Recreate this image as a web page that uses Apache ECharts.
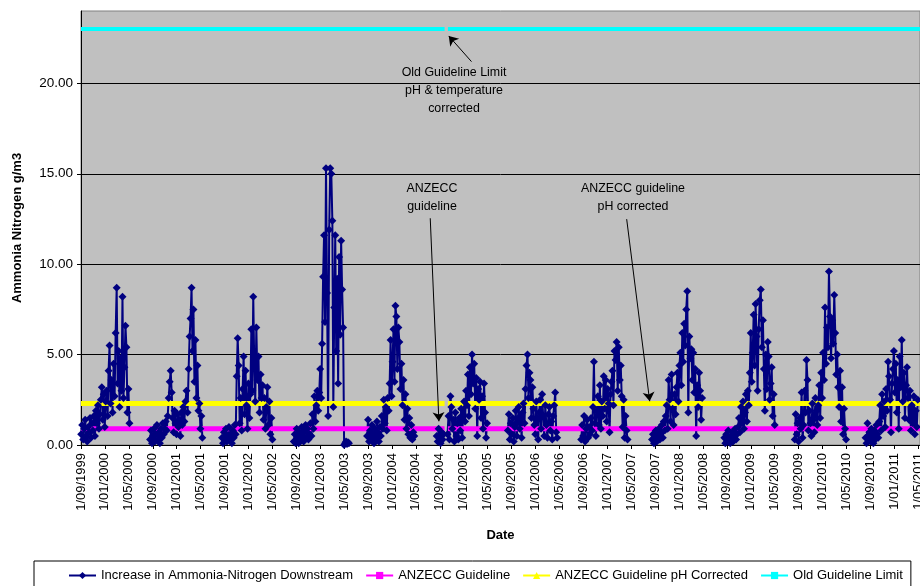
<!DOCTYPE html>
<html>
<head>
<meta charset="utf-8">
<title>Ammonia Nitrogen downstream</title>
<script src="https://cdn.jsdelivr.net/npm/echarts@6.0.0/dist/echarts.min.js"></script>
<style>
  html, body { margin: 0; padding: 0; background: #fff; }
  #chart { width: 920px; height: 586px; }
</style>
</head>
<body>
<div id="chart"></div>
<script>
// one sample every 5 days during each monitoring season
const stepDays = 5;
const seasonStarts = [
    '1999-09-02', '2000-08-18', '2001-08-19', '2002-08-19', '2003-08-27', '2004-08-16',
    '2004-10-10', '2005-08-13', '2006-08-21', '2007-08-16', '2008-08-19', '2009-08-12', '2010-08-07'
];

const nh3_1999 = [0.6, 1.1, 0.3, 0.9, 1.4, 0.5, 0.2, 1.0, 0.7, 1.5, 0.4, 1.2, 0.8, 1.6, 0.5, 1.9, 1.2, 2.2, 0.9, 1.7,
    2.5, 3.2, 1.4, 2.8, 1.0, 2.4, 3.0, 1.6, 4.1, 5.5, 2.3, 3.6, 1.8, 4.5, 2.7, 6.2, 8.7, 3.4, 5.2, 2.1,
    4.8, 3.0, 8.2, 2.6, 4.3, 6.6, 5.4, 1.8, 3.1, 1.2];
const nh3_2000 = [0.3, 0.8, 0.1, 0.5, 0.9, 0.2, 0.6, 1.1, 0.3, 0.7, 0.1, 0.9, 0.4, 1.2, 0.6, 0.9,
    1.3, 0.8, 1.6, 2.6, 3.5, 4.1, 2.9,
    1.5, 0.7, 1.9, 1.2, 0.6, 1.7, 1.0, 1.4, 0.5, 1.8, 1.1, 2.1, 1.3,
    2.4, 3.0, 1.8, 4.2, 6.0, 7.0, 8.7, 5.2, 7.5, 3.5, 5.8, 2.6, 4.4,
    1.9, 2.3, 0.9, 1.6, 0.4];
const nh3_2001 = [0.4, 0.1, 0.7, 0.3, 0.9, 0.2, 0.5, 1.0, 0.3, 0.6, 0.1, 0.8, 0.4, 1.1, 0.6,
    3.8, 5.9, 4.4,
    1.2, 2.6, 0.8, 3.1, 4.9, 1.7, 4.1, 2.2, 0.9, 3.4, 1.5, 2.8,
    6.4, 3.0, 8.2, 4.6, 2.4, 6.5, 3.6, 4.9, 1.8, 3.9, 2.6,
    3.3, 1.4, 2.6, 0.9, 2.1, 3.2, 1.1, 2.4, 0.6, 1.5, 0.3];
const nh3_2002 = [0.2, 0.6, 0.1, 0.9, 0.4, 0.1, 0.7, 0.3, 1.0, 0.5, 0.2, 0.8, 1.1, 0.4, 0.9, 0.3, 0.6, 1.2, 0.5,
    1.7, 0.9, 2.7, 1.3, 2.2, 3.0, 1.9, 2.9,
    4.2, 2.6, 5.6, 9.3, 11.6, 6.8, 15.3, 8.4, 1.6, 11.9, 15.3, 15.0,
    12.4, 2.1, 7.6, 11.6, 5.2, 9.2, 3.4, 10.4, 6.1, 11.3, 8.6, 6.5,
    0.0, 0.1, 0.2, 0.05, 0.15, 0.1];
const nh3_2003 = [0.5, 1.4, 0.2, 0.8, 0.3, 1.1, 0.6, 0.1, 0.9, 0.4, 1.3, 0.7, 0.2, 1.0, 0.5,
    1.6, 0.9, 2.5, 1.2, 2.1, 0.8, 2.6, 1.9, 3.4,
    5.8, 2.7, 4.6, 6.4, 3.5, 7.7, 7.1, 4.2, 6.5, 5.7,
    3.1, 4.5, 2.2, 3.6, 1.4, 2.8, 0.9, 2.0, 0.6, 1.5, 0.4, 1.1, 0.3, 0.7, 0.5];
const nh3_2004a = [0.5, 0.2, 0.9, 0.4, 0.1, 0.7, 0.3, 0.6];
const nh3_2004b = [0.6, 1.6, 0.3, 2.7, 2.1, 0.9, 1.4, 0.2, 1.8,
    0.5, 1.2, 0.3, 1.5, 0.8, 2.0, 0.4, 1.7, 2.4,
    1.3, 3.0, 2.2, 3.9, 1.6, 4.3, 2.8, 5.0, 3.4, 4.5, 2.0, 3.7, 0.5, 3.1, 2.5, 3.5, 1.5,
    2.7, 0.9, 3.4, 1.8, 0.4, 1.2];
const nh3_2005 = [0.8, 1.7, 0.3, 1.2, 0.6, 1.5, 0.2, 1.0, 1.9, 0.5, 1.3, 2.1, 0.9, 1.6, 0.4, 1.8,
    2.3, 1.2, 3.1, 4.4, 5.0, 2.6, 4.0, 3.6, 1.5, 3.2, 2.0, 1.1,
    0.6, 2.4, 1.4, 0.3, 1.8, 2.5, 0.9, 2.8, 1.6, 0.5, 2.2, 1.1,
    0.4, 1.7, 2.1, 0.8, 1.3, 0.3, 1.6, 2.2, 2.9, 0.7, 0.4];
const nh3_2006 = [0.3, 1.1, 0.5, 1.6, 0.2, 0.9, 1.4, 0.4, 1.0, 0.6,
    1.5, 0.8, 2.1, 4.6, 1.2, 0.5, 1.9,
    2.7, 1.1, 3.3, 0.9, 2.4, 1.6, 3.8, 2.0, 3.6, 1.3, 3.1, 2.3, 0.7, 2.8,
    3.5, 4.1, 2.2, 5.2, 4.7, 5.7, 3.0, 5.4, 3.6, 4.4,
    2.7, 1.0, 2.5, 0.4, 1.6, 0.8, 0.3];
const nh3_2007 = [0.3, 0.6, 0.1, 0.4, 0.8, 0.2, 0.5, 0.9, 0.3, 0.7, 1.1, 0.4, 1.3, 0.8,
    1.6, 2.2, 0.9, 3.6, 2.5, 1.3, 3.9, 2.0, 1.1, 2.8, 1.7, 3.2,
    4.0, 2.4, 4.4, 5.1, 3.3, 6.2, 4.6, 6.7, 5.5, 7.5, 8.5, 1.8, 6.0, 4.8, 5.3, 3.6, 5.1,
    2.9, 4.2, 0.5, 3.3, 2.1, 4.0, 3.0, 1.4, 2.6];
const nh3_2008 = [0.4, 0.1, 0.6, 0.2, 0.8, 0.3, 0.1, 0.5, 0.7, 0.2, 0.4, 0.9, 0.3, 0.6, 1.0,
    1.5, 0.7, 2.1, 1.2, 2.4, 0.9, 1.8, 2.8, 1.3, 3.0, 2.2, 4.0,
    6.2, 3.5, 5.1, 7.2, 4.4, 7.8, 6.0, 3.0, 6.4, 8.0, 8.6, 5.4, 6.9, 4.2, 1.9, 5.0, 3.1, 5.7,
    4.9, 2.5, 3.4, 4.3, 1.6, 2.8, 1.1];
const nh3_2009 = [0.3, 1.7, 0.6, 1.2, 0.2, 1.5, 0.9, 2.9, 0.4, 1.1, 3.0, 1.8,
    4.7, 3.6, 0.8, 1.9, 1.2, 0.5, 2.3, 1.4, 0.7, 2.6, 1.9, 1.1, 2.2,
    3.3, 1.5, 4.0, 2.6, 5.1, 3.6, 7.6, 4.5, 6.5, 5.4, 9.6, 7.1, 4.8, 6.9, 5.6, 8.3, 6.2, 3.9, 5.0,
    3.2, 2.1, 4.1, 1.3, 3.2, 0.6, 2.0, 0.9, 0.3];
const nh3_2010 = [0.4, 0.1, 1.2, 0.3, 0.7, 0.2, 0.9, 0.5, 0.1, 0.8, 0.3, 1.1, 0.6, 0.4,
    1.3, 2.2, 0.8, 2.8, 1.6, 2.4, 1.0, 3.1, 1.9,
    4.6, 3.8, 2.5, 0.7, 3.4, 4.2, 5.2, 2.9, 4.5, 1.8, 3.6, 0.9, 4.9, 3.2, 5.8, 2.4, 4.0, 1.5, 3.3, 4.3, 2.6,
    1.4, 3.0, 0.8, 2.2, 1.2, 2.7, 0.6, 1.9, 1.0, 2.5];

const seasonValues = [nh3_1999, nh3_2000, nh3_2001, nh3_2002, nh3_2003, nh3_2004a,
    nh3_2004b, nh3_2005, nh3_2006, nh3_2007, nh3_2008, nh3_2009, nh3_2010];

// guideline series (constant levels) and the dates they cover
const guideSpans = [['1999-09-01', '2004-09-25'], ['2004-10-12', '2011-05-10']];
const anzeccGuideline = 0.9;
const anzeccPhCorrected = 2.3;
const oldGuidelineLimit = 23.0;

const dateTicks = ['1/09/1999', '1/01/2000', '1/05/2000', '1/09/2000', '1/01/2001', '1/05/2001',
    '1/09/2001', '1/01/2002', '1/05/2002', '1/09/2002', '1/01/2003', '1/05/2003',
    '1/09/2003', '1/01/2004', '1/05/2004', '1/09/2004', '1/01/2005', '1/05/2005',
    '1/09/2005', '1/01/2006', '1/05/2006', '1/09/2006', '1/01/2007', '1/05/2007',
    '1/09/2007', '1/01/2008', '1/05/2008', '1/09/2008', '1/01/2009', '1/05/2009',
    '1/09/2009', '1/01/2010', '1/05/2010', '1/09/2010', '1/01/2011', '1/05/2011'];
const yTicks = [0, 5, 10, 15, 20];

const seriesNames = ['Increase in Ammonia-Nitrogen Downstream', 'ANZECC Guideline',
    'ANZECC Guideline pH Corrected', 'Old Guideline Limit'];

// x axis runs in months counted from 1 Sep 1999, ticks every 4 months
function parseDay(s) {
    var p = s.split('-').map(Number);
    return new Date(Date.UTC(p[0], p[1] - 1, p[2]));
}
function toMonths(t) {
    var y = t.getUTCFullYear(), m = t.getUTCMonth(), d = t.getUTCDate();
    var dim = new Date(Date.UTC(y, m + 1, 0)).getUTCDate();
    return (y - 1999) * 12 + (m - 8) + (d - 1) / dim;
}

var mainData = [];
seasonValues.forEach(function (vals, k) {
    var t0 = parseDay(seasonStarts[k]).getTime();
    var lastX = 0;
    vals.forEach(function (v, i) {
        lastX = toMonths(new Date(t0 + i * stepDays * 86400000));
        mainData.push([lastX, v]);
    });
    mainData.push([lastX + 0.05, '-']);
});

function guideData(level) {
    var out = [];
    guideSpans.forEach(function (span, k) {
        var a = toMonths(parseDay(span[0])), b = toMonths(parseDay(span[1]));
        if (k > 0) out.push([a - 0.05, '-']);
        out.push([a, level]);
        out.push([b, level]);
    });
    return out;
}

var dom = document.getElementById('chart');
var myChart = echarts.init(dom, null, { renderer: 'canvas' });

var font = '"Liberation Sans", Arial, sans-serif';

const option = {
    animation: false,
    textStyle: { fontFamily: font, color: '#000' },
    grid: {
        left: 81, right: 0, top: 11, bottom: 141,
        show: true,
        backgroundColor: '#C0C0C0',
        borderColor: '#808080',
        borderWidth: 1,
        containLabel: false,
        outerBoundsMode: 'none'
    },
    xAxis: {
        type: 'value',
        min: 0,
        max: 140.3,
        interval: 4,
        name: 'Date',
        nameLocation: 'middle',
        nameGap: 84,
        nameMoveOverlap: false,
        nameTextStyle: { fontFamily: font, fontWeight: 'bold', fontSize: 13, color: '#000' },
        axisLine: { show: true, onZero: false, lineStyle: { color: '#000', width: 1 } },
        axisTick: { show: true, length: 4, lineStyle: { color: '#000' },
            customValues: dateTicks.map(function (s, i) { return i * 4; }) },
        axisLabel: {
            rotate: 90,
            margin: 8,
            fontSize: 13,
            color: '#000',
            fontFamily: font,
            customValues: dateTicks.map(function (s, i) { return i * 4; }),
            formatter: function (v) {
                var k = Math.round(v / 4);
                return (Math.abs(v - k * 4) < 1e-6 && dateTicks[k]) ? dateTicks[k] : '';
            }
        },
        splitLine: { show: false }
    },
    yAxis: {
        type: 'value',
        min: 0,
        max: 24,
        interval: 5,
        name: 'Ammonia Nitrogen g/m3',
        nameLocation: 'middle',
        nameGap: 57,
        nameMoveOverlap: false,
        nameTextStyle: { fontFamily: font, fontWeight: 'bold', fontSize: 13, color: '#000' },
        axisLine: { show: true, lineStyle: { color: '#000', width: 1 } },
        axisTick: { show: true, length: 4, lineStyle: { color: '#000' }, customValues: yTicks },
        axisLabel: {
            margin: 8,
            fontSize: 13.5,
            color: '#000',
            fontFamily: font,
            customValues: yTicks,
            formatter: function (v) { return v % 5 === 0 ? v.toFixed(2) : ''; }
        },
        splitLine: { show: true, lineStyle: { color: '#000', width: 1 } }
    },
    legend: {
        data: seriesNames,
        left: 34,
        top: 561,
        orient: 'horizontal',
        padding: [8, 8, 20, 34],
        itemWidth: 27,
        itemHeight: 9,
        itemGap: 12,
        borderColor: '#000',
        borderWidth: 1,
        backgroundColor: '#fff',
        selectedMode: false,
        lineStyle: { width: 2 },
        textStyle: { fontFamily: font, fontSize: 13, color: '#000' }
    },
    graphic: [
        {
            type: 'text', x: 454, y: 64, silent: true,
            style: { text: 'Old Guideline Limit\npH & temperature\ncorrected', textAlign: 'center',
                textVerticalAlign: 'top', font: '12.4px ' + font, fill: '#000', lineHeight: 18 }
        },
        {
            type: 'text', x: 432, y: 180, silent: true,
            style: { text: 'ANZECC\nguideline', textAlign: 'center',
                textVerticalAlign: 'top', font: '12.4px ' + font, fill: '#000', lineHeight: 18 }
        },
        {
            type: 'text', x: 633, y: 180, silent: true,
            style: { text: 'ANZECC guideline\npH corrected', textAlign: 'center',
                textVerticalAlign: 'top', font: '12.4px ' + font, fill: '#000', lineHeight: 18 }
        }
    ],
    series: [
        {
            name: seriesNames[0],
            type: 'line',
            data: mainData,
            symbol: 'diamond',
            symbolSize: 8,
            showSymbol: true,
            connectNulls: false,
            silent: true,
            itemStyle: { color: '#000080' },
            lineStyle: { color: '#000080', width: 2 }
        },
        {
            name: seriesNames[1],
            type: 'line',
            data: guideData(anzeccGuideline),
            symbol: 'rect',
            symbolSize: 4,
            showSymbol: false,
            silent: true,
            itemStyle: { color: '#FF00FF' },
            lineStyle: { color: '#FF00FF', width: 5 }
        },
        {
            name: seriesNames[2],
            type: 'line',
            data: guideData(anzeccPhCorrected),
            symbol: 'triangle',
            symbolSize: 4,
            showSymbol: false,
            silent: true,
            itemStyle: { color: '#FFFF00' },
            lineStyle: { color: '#FFFF00', width: 5 }
        },
        {
            name: seriesNames[3],
            type: 'line',
            data: guideData(oldGuidelineLimit),
            symbol: 'rect',
            symbolSize: 4,
            showSymbol: false,
            silent: true,
            itemStyle: { color: '#00FFFF' },
            lineStyle: { color: '#00FFFF', width: 4 },
            markLine: {
                silent: true,
                animation: false,
                symbol: ['none', 'arrow'],
                symbolSize: 9,
                label: { show: false },
                lineStyle: { color: '#000', width: 1, type: 'solid' },
                emphasis: { disabled: true },
                data: [
                    [{ coord: [65.3, 21.2] }, { coord: [61.5, 22.62] }],
                    [{ coord: [58.4, 12.54] }, { coord: [59.85, 1.31] }],
                    [{ coord: [91.25, 12.49] }, { coord: [95.1, 2.42] }]
                ]
            }
        }
    ]
};

myChart.setOption(option);
window.addEventListener('resize', myChart.resize);
</script>
</body>
</html>
